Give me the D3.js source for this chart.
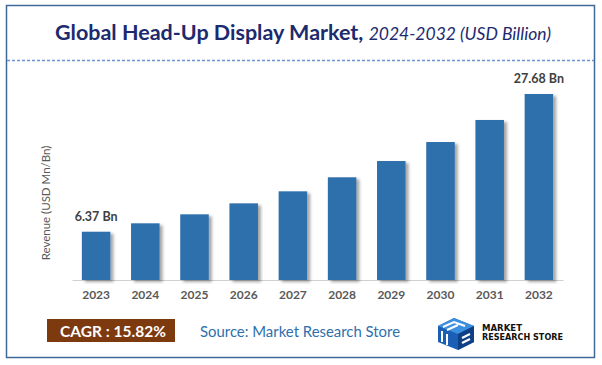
<!DOCTYPE html>
<html>
<head>
<meta charset="utf-8">
<script src="https://cdn.jsdelivr.net/npm/d3@7"></script>
<style>
html,body{margin:0;padding:0;background:#fff;}
svg{display:block;}
</style>
</head>
<body>
<svg id="chart" width="602" height="365"></svg>
<script>
const years = ["2023","2024","2025","2026","2027","2028","2029","2030","2031","2032"];
const revenue = [6.37, 7.67, 9.06, 10.76, 12.62, 14.79, 17.31, 20.25, 23.66, 27.68];
const valueLabels = [{year:"2023", text:"6.37 Bn"}, {year:"2032", text:"27.68 Bn"}];
const titleMain = "Global Head-Up Display Market,";
const titleSub = "2024-2032 (USD Billion)";
const yTitle = "Revenue (USD Mn/Bn)";
const cagrText = "CAGR : 15.82%";
const sourceText = "Source: Market Research Store";
const logoLines = ["MARKET", "RESEARCH STORE"];

const svg = d3.select("#chart");
const font = "Lato, 'Open Sans', 'DejaVu Sans', sans-serif";

const defs = svg.append("defs");
const f = defs.append("filter").attr("id","shadow").attr("x","-20%").attr("y","-10%").attr("width","160%").attr("height","130%");
f.append("feDropShadow").attr("dx",3).attr("dy",2).attr("stdDeviation",1.6).attr("flood-color","#000").attr("flood-opacity",0.35);

// border
svg.append("rect").attr("x",6.5).attr("y",5.5).attr("width",588).attr("height",352)
  .attr("fill","#fff").attr("stroke","#3f6996").attr("stroke-width",1.5);

// title
const title = svg.append("text").attr("x",303).attr("y",40).attr("text-anchor","middle")
  .attr("font-family",font).attr("fill","#1c2a6e");
title.append("tspan").attr("font-weight","bold").attr("font-size",21.5).text(titleMain + " ");
title.append("tspan").attr("font-style","italic").attr("font-size",17.5).text(titleSub);

// dashed separator
svg.append("line").attr("x1",7).attr("x2",594).attr("y1",60.5).attr("y2",60.5)
  .attr("stroke","#6f93d3").attr("stroke-width",1.3).attr("stroke-dasharray","3,2");

// scales
const x = d3.scaleBand().domain(years).range([72, 563]).paddingInner(0.42).paddingOuter(0.2);
const y = d3.scaleLinear().domain([-1.1, 27.68]).range([280, 94]);

// axis
const xAxis = svg.append("g").attr("transform","translate(0,280)")
  .call(d3.axisBottom(x).tickSize(0).tickPadding(10));
xAxis.select(".domain").attr("stroke","#d0d0d0").attr("stroke-width",1.2);
xAxis.selectAll("text").attr("font-family",font).attr("font-size",12).attr("font-weight","bold").attr("fill","#595959");

// bars
svg.append("g").selectAll("rect").data(years).join("rect")
  .attr("x", d => x(d))
  .attr("width", x.bandwidth())
  .attr("y", (d,i) => y(revenue[i]))
  .attr("height", (d,i) => y(y.domain()[0]) - y(revenue[i]))
  .attr("fill","#2e6fac")
  .attr("filter","url(#shadow)");

// value labels
svg.append("g").selectAll("text").data(valueLabels).join("text")
  .attr("x", d => x(d.year) + x.bandwidth()/2)
  .attr("y", d => y(revenue[years.indexOf(d.year)]) - 11)
  .attr("text-anchor","middle").attr("font-family",font).attr("font-size",12.5)
  .attr("font-weight","bold").attr("fill","#404040").text(d => d.text);

// y title
svg.append("text").attr("transform","translate(50,203) rotate(-90)").attr("text-anchor","middle")
  .attr("font-family",font).attr("font-size",11.5).attr("fill","#595959").text(yTitle);

// CAGR box
svg.append("rect").attr("x",47).attr("y",319).attr("width",128).attr("height",23).attr("fill","#7e3a0f");
svg.append("text").attr("x",113).attr("y",336.5).attr("text-anchor","middle")
  .attr("font-family",font).attr("font-size",15.5).attr("font-weight","bold").attr("fill","#fff").text(cagrText);

// source
svg.append("text").attr("x",200).attr("y",337).attr("font-family",font).attr("font-size",14.9)
  .attr("fill","#2e6fac").text(sourceText);

// logo icon
const logo = svg.append("g").attr("transform","translate(438,318)");
logo.append("path").attr("d","M0,8 L16,0 L36,8 L36,24 L20,32 L0,24 Z").attr("fill","#1a5fb4");
logo.append("path").attr("d","M0,8 L16,0 L36,8 L20,16 Z").attr("fill","#3d8fe0");
logo.append("path").attr("d","M20,16 L36,8 L36,24 L20,32 Z").attr("fill","#0f3f85");
logo.append("path").attr("d","M5,9 L16,4 L27,8 M9,12 L20,7 M24,20 L32,16 M24,25 L32,21").attr("stroke","#fff").attr("stroke-width",2).attr("fill","none");
logo.append("path").attr("d","M4,13 L4,24 M9,16 L9,27").attr("stroke","#fff").attr("stroke-width",2);
logo.append("text").attr("x",44).attr("y",13).attr("font-family","'Liberation Sans Narrow', 'DejaVu Sans Condensed', sans-serif")
  .attr("font-weight","bold").attr("font-size",9).attr("textLength",40).attr("lengthAdjust","spacingAndGlyphs")
  .attr("fill","#111").text(logoLines[0]);
logo.append("text").attr("x",44).attr("y",22).attr("font-family","'Liberation Sans Narrow', 'DejaVu Sans Condensed', sans-serif")
  .attr("font-weight","bold").attr("font-size",9).attr("textLength",81).attr("lengthAdjust","spacingAndGlyphs")
  .attr("fill","#111").text(logoLines[1]);
</script>
</body>
</html>
